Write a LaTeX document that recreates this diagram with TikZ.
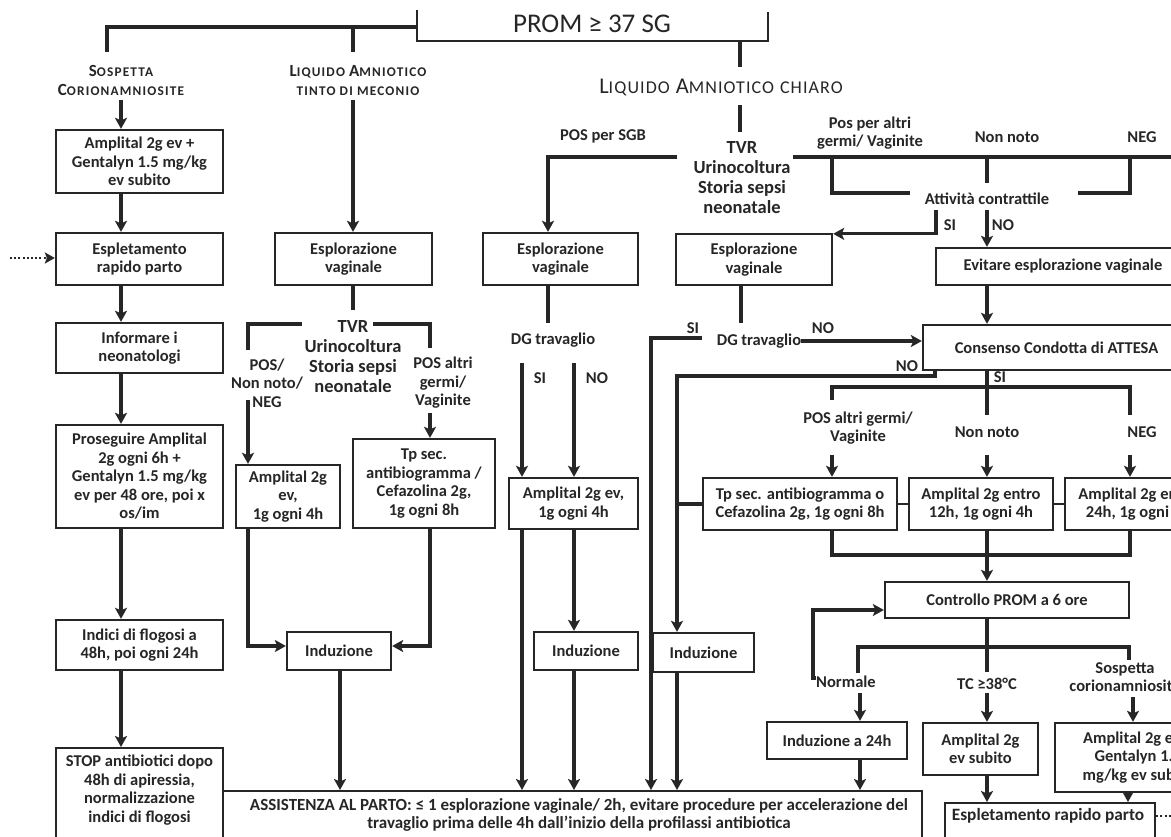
\documentclass[tikz,border=0pt]{standalone}
\usepackage{fontspec}
\setmainfont{Carlito}
\newfontfamily\spaced[LetterSpace=9]{Carlito}
\newfontfamily\spacedL[LetterSpace=6]{Carlito}
\usetikzlibrary{arrows.meta,calc}
\definecolor{ink}{HTML}{262626}
\newcommand{\hsc}[2]{{\fontsize{17}{19}\selectfont #1}{\fontsize{13.3}{19}\selectfont #2}}
\newcommand{\hscL}[2]{{\fontsize{22.5}{24}\selectfont #1}{\fontsize{18}{24}\selectfont #2}}
\tikzset{
  box/.style={draw=ink, line width=2.3pt, fill=white, inner sep=0pt, align=center, text=ink,
    font=\bfseries\fontsize{16.5}{18.5}\selectfont},
  frame/.style={draw=ink, line width=2.3pt, inner sep=0pt},
  lbl/.style={inner sep=0pt, align=center, text=ink, font=\bfseries\fontsize{16.5}{18.5}\selectfont},
  big/.style={font=\bfseries\fontsize{18.5}{20}\selectfont},
  head/.style={font=\fontsize{13.3}{19}\selectfont\spaced\bfseries},
  ln/.style={draw=ink, line width=3.2pt},
  arr/.style={ln, -{Stealth[length=11pt,width=12pt,inset=2.5pt]}},
  dotarr/.style={draw=ink, line width=2.2pt, dash pattern=on 2pt off 2.2pt, -{Stealth[length=10pt,width=11pt,inset=2pt]}},
  dotln/.style={draw=ink, line width=2.2pt, dash pattern=on 2pt off 2.2pt},
}
\begin{document}
\begin{tikzpicture}[x=1pt,y=-1pt]
\useasboundingbox (0,0) rectangle (1171,837);
\clip (0,0) rectangle (1171,837);
\fill[white] (0,0) rectangle (1171,837);

% x reference coordinates
\coordinate (xA) at (121,0);
\coordinate (xB) at (353,0);
\coordinate (xC) at (248,0);
\coordinate (xD) at (430,0);
\coordinate (xE) at (548,0);
\coordinate (xF) at (522,0);
\coordinate (xG) at (574,0);
\coordinate (xH) at (651,0);
\coordinate (xI) at (677,0);
\coordinate (xJ) at (741,0);
\coordinate (xL) at (832,0);
\coordinate (xM) at (987,0);
\coordinate (xN) at (1130,0);
\coordinate (xO) at (340,0);
\coordinate (xP) at (860,0);
\coordinate (xQ) at (1133,0);
\coordinate (xR) at (1128,0);
\coordinate (xT) at (935,0);

% ---------- title ----------
\node[lbl, font=\fontsize{27}{30}\selectfont] (prom) at (592,24) {PROM ≥ 37 SG};
\draw[ln, line width=2.4pt] (417,10) -- (417,41) -- (768,41) -- (768,12);
\draw[ln] (417,27) -- (107,27) -- (107,52);
\draw[ln] (353,27) -- (353,52);
\draw[ln] (740,41) -- (740,67);

% ---------- headings ----------
\node[lbl, head] (sosp) at (121,80.5) {\hsc{S}{OSPETTA}\\\hsc{C}{ORIONAMNIOSITE}};
\node[lbl, head] (tinto) at (358,80.5) {\hsc{L}{IQUIDO}\hspace{4pt}\hsc{A}{MNIOTICO}\\\hsc{}{TINTO DI MECONIO}};
\node[lbl, font=\fontsize{18}{24}\selectfont\spacedL] (chiaro) at (721,87) {\hscL{L}{IQUIDO}\hspace{6pt}\hscL{A}{MNIOTICO}\hspace{6pt}\hscL{}{CHIARO}};

% ---------- column 1 ----------
\node[box, minimum width=167pt, minimum height=63pt] (b1) at (139.5,161.5) {Amplital 2g ev +\\Gentalyn 1.5 mg/kg\\ev subito};
\node[box, minimum width=167pt, minimum height=52pt] (b2) at (139.5,259) {Espletamento\\rapido parto};
\node[box, minimum width=167pt, minimum height=50pt] (b3) at (139.5,348) {Informare i\\neonatologi};
\node[box, minimum width=167pt, minimum height=103pt] (b4) at (139.5,476.5) {Proseguire Amplital\\2g ogni 6h +\\Gentalyn 1.5 mg/kg\\ev per 48 ore, poi x\\os/im};
\node[box, minimum width=167pt, minimum height=50pt] (b5) at (139.5,645) {Indici di flogosi a\\48h, poi ogni 24h};
\node[frame, minimum width=167pt, minimum height=110pt, anchor=north] (b6) at (139.5,747) {};
\node[lbl] (b6t) at (139.5,790) {STOP antibiotici dopo\\48h di apiressia,\\normalizzazione\\indici di flogosi};

\draw[arr] ([yshift=-4pt]sosp.south) -- (b1.north -| xA);
\draw[arr] (b1.south -| xA) -- (b2.north -| xA);
\draw[arr] (b2.south -| xA) -- (b3.north -| xA);
\draw[arr] (b3.south -| xA) -- (b4.north -| xA);
\draw[arr] (b4.south -| xA) -- (b5.north -| xA);
\draw[arr] (b5.south -| xA) -- (b6.north -| xA);
\coordinate (dotL) at (10,258);
\draw[dotarr] (dotL) -- (b2.west |- dotL);

% ---------- column 2 ----------
\node[box, minimum width=157pt, minimum height=52pt] (e1) at (353.5,259) {Esplorazione\\vaginale};
\node[lbl, big] (tvr2) at (353,357) {TVR\\Urinocoltura\\Storia sepsi\\neonatale};
\node[lbl] (posnn) at (267,383) {POS/\\Non noto/\\NEG};
\node[lbl] (posalt2) at (443,383) {POS altri\\germi/\\Vaginite};
\node[box, minimum width=104pt, minimum height=63pt] (a2) at (288,496.5) {Amplital 2g\\ev,\\1g ogni 4h};
\node[box, minimum width=142pt, minimum height=89pt] (tp1) at (424,483.5) {Tp sec.\\antibiogramma /\\Cefazolina 2g,\\1g ogni 8h};
\node[box, minimum width=104pt, minimum height=38pt] (ind1) at (339,651) {Induzione};

\draw[arr] ([yshift=-4pt]tinto.south -| xB) -- (e1.north -| xB);
\draw[ln] (e1.south -| xB) -- (353,310);
\draw[ln] (302,324) -- (248,324) -- (248,350);
\draw[ln] (373,324) -- (430,324) -- (430,348);
\draw[arr] (248,400) -- (a2.north -| xC);
\draw[arr] (430,413) -- (tp1.north -| xD);
\draw[arr] (a2.south -| xC) |- ([yshift=5pt]ind1.west);
\draw[arr] (tp1.south -| xD) |- ([yshift=5pt]ind1.east);

% ---------- column 3 ----------
\node[lbl] (possgb) at (603,136) {POS per SGB};
\node[lbl, big] (tvr1) at (742,178) {TVR\\Urinocoltura\\Storia sepsi\\neonatale};
\node[box, minimum width=155pt, minimum height=52pt] (e2) at (560.5,259) {Esplorazione\\vaginale};
\node[lbl] (dg1) at (553,340) {DG travaglio};
\node[lbl] (si2) at (540,378) {SI};
\node[lbl] (no2) at (597,378) {NO};
\node[box, minimum width=129pt, minimum height=51pt] (a3) at (573.5,503.5) {Amplital 2g ev,\\1g ogni 4h};
\node[box, minimum width=104pt, minimum height=38pt] (ind2) at (586,651) {Induzione};

\draw[ln] (740,105) -- (740,132);
\draw[arr] (677,157) -| (e2.north -| xE);
\draw[ln] (e2.south -| xE) -- (548,323);
\draw[arr] (522,363) -- (a3.north -| xF);
\draw[arr] (574,363) -- (a3.north -| xG);
\draw[arr] (a3.south -| xG) -- (ind2.north -| xG);

% ---------- column 4 ----------
\node[box, minimum width=156pt, minimum height=51pt] (e3) at (754,259.5) {Esplorazione\\vaginale};
\node[lbl] (dg2) at (759,341) {DG travaglio};
\node[lbl] (si3) at (693,328) {SI};
\node[lbl] (no3) at (823,328) {NO};
\node[box, minimum width=101pt, minimum height=39pt] (ind3) at (703.5,652.5) {Induzione};

% ---------- right part ----------
\node[lbl] (posalt1) at (870,133) {Pos per altri\\germi/ Vaginite};
\node[lbl] (nn1) at (1007,137) {Non noto};
\node[lbl] (neg1) at (1142,137) {NEG};
\node[lbl] (att) at (987,199) {Attività contrattile};
\node[lbl] (si1) at (950,225) {SI};
\node[lbl] (no1) at (1003,225) {NO};
\node[box, minimum width=254pt, minimum height=37pt] (ev) at (1063,266.5) {Evitare esplorazione vaginale};
\node[box, minimum width=267pt, minimum height=45pt] (cons) at (1056.5,347.5) {Consenso Condotta di ATTESA};
\node[lbl] (no4) at (907,366) {NO};
\node[lbl] (si4) at (1000,377.5) {SI};
\node[lbl] (posalt3) at (858,428) {POS altri germi/\\Vaginite};
\node[lbl] (nn2) at (987,432) {Non noto};
\node[lbl] (neg2) at (1142,432) {NEG};
\node[box, minimum width=194pt, minimum height=52pt] (bA) at (800,504) {Tp sec. antibiogramma o\\Cefazolina 2g, 1g ogni 8h};
\node[box, minimum width=144pt, minimum height=52pt] (bB) at (981,504) {Amplital 2g entro\\12h, 1g ogni 4h};
\node[box, minimum width=146pt, minimum height=52pt] (bC) at (1138,504) {Amplital 2g entro\\24h, 1g ogni 4h};
\node[box, minimum width=244pt, minimum height=36pt] (ctrl) at (1007,600) {Controllo PROM a 6 ore};
\node[lbl] (normale) at (846,682) {Normale};
\node[lbl] (tc) at (987,684) {TC ≥38°C};
\node[lbl] (sosp2) at (1125,677) {Sospetta\\corionamniosite};
\node[box, minimum width=140pt, minimum height=37pt] (i24) at (837,740.5) {Induzione a 24h};
\node[box, minimum width=115pt, minimum height=52pt] (am2) at (980.5,749) {Amplital 2g\\ev subito};
\node[box, minimum width=166pt, minimum height=69pt] (am3) at (1138,757.5) {Amplital 2g ev +\\Gentalyn 1.5\\mg/kg ev subito};
\node[frame, minimum width=210pt, minimum height=60pt, anchor=north] (esp2) at (1050,802) {};
\node[lbl, font=\bfseries\fontsize{17.3}{19}\selectfont] (esp2t) at (1048,816) {Espletamento rapido parto};

% assistenza
\node[frame, minimum width=699pt, minimum height=70pt, anchor=north] (assist) at (572.5,790) {};
\node[lbl, font=\bfseries\fontsize{17}{17.5}\selectfont] (assistt) at (579,815) {ASSISTENZA AL PARTO: ≤ 1 esplorazione vaginale/ 2h, evitare procedure per accelerazione del\\travaglio prima delle 4h dall'inizio della profilassi antibiotica};

% right connectors
\draw[ln] (793,157) -- (1180,157);
\draw[ln] (832,157) -- (832,193) -- (910,193);
\draw[ln] (987,157) -- (987,183);
\draw[ln] (1130,157) -- (1130,193) -- (1078,193);
\draw[arr] (936,210) |- ([yshift=-1pt]e3.north east);
\draw[arr] (987,210) -- (ev.north -| xM);
\draw[arr] (ev.south -| xM) -- (cons.north -| xM);
\draw[ln] (e3.south -| xJ) -- (741,323);
\draw[arr] (dg2.east) -- (cons.west |- dg2.east);
\draw[arr] (702,338) -| (assist.north -| xH);
\draw[arr] (cons.south -| xT) -- (935,376) -| (ind3.north -| xI);
\draw[ln] (bA.west -| xI) -- (bA.west);
\draw[arr] (ind3.south -| xI) -- (assist.north -| xI);
\draw[arr] (a3.south -| xF) -- (assist.north -| xF);
\draw[arr] (ind2.south -| xG) -- (assist.north -| xG);
\draw[arr] (ind1.south -| xO) -- (assist.north -| xO);

\draw[ln] (cons.south -| xM) -- (987,387);
\draw[ln] (832,400) -- (832,387) -- (1130,387) -- (1130,415);
\draw[ln] (987,387) -- (987,415);
\draw[arr] (832,455) -- (bA.north -| xL);
\draw[arr] (987,455) -- (bB.north -| xM);
\draw[arr] (1130,455) -- (bC.north -| xN);
\draw[ln, line width=2.2pt] (bA.east) -- (bB.west);
\draw[ln, line width=2.2pt] (bB.east) -- (bC.west);
\draw[ln] (bA.south -| xL) -- (832,555) -- (1130,555) -- (bC.south -| xN);
\draw[arr] (bB.south -| xM) -- (ctrl.north -| xM);
\draw[ln] (ctrl.south -| xM) -- (987,672);
\draw[ln] (858,673) -- (858,647) -- (1129,647) -- (1129,660);
\draw[arr] ([yshift=4pt]normale.west) -- ++(-3,0) |- ([yshift=-10pt]ctrl.west);
\draw[arr] (860,693) -- (i24.north -| xP);
\draw[arr] (987,693) -- (am2.north -| xM);
\draw[arr] (1133,697) -- (am3.north -| xQ);
\draw[arr] (i24.south -| xP) -- (assist.north -| xP);
\draw[arr] (am2.south -| xM) -- (esp2.north -| xM);
\draw[arr] (am3.south -| xR) -- (esp2.north -| xR);
\draw[dotln] (esp2.east |- esp2t) -- ++(20,0);
\end{tikzpicture}
\end{document}
